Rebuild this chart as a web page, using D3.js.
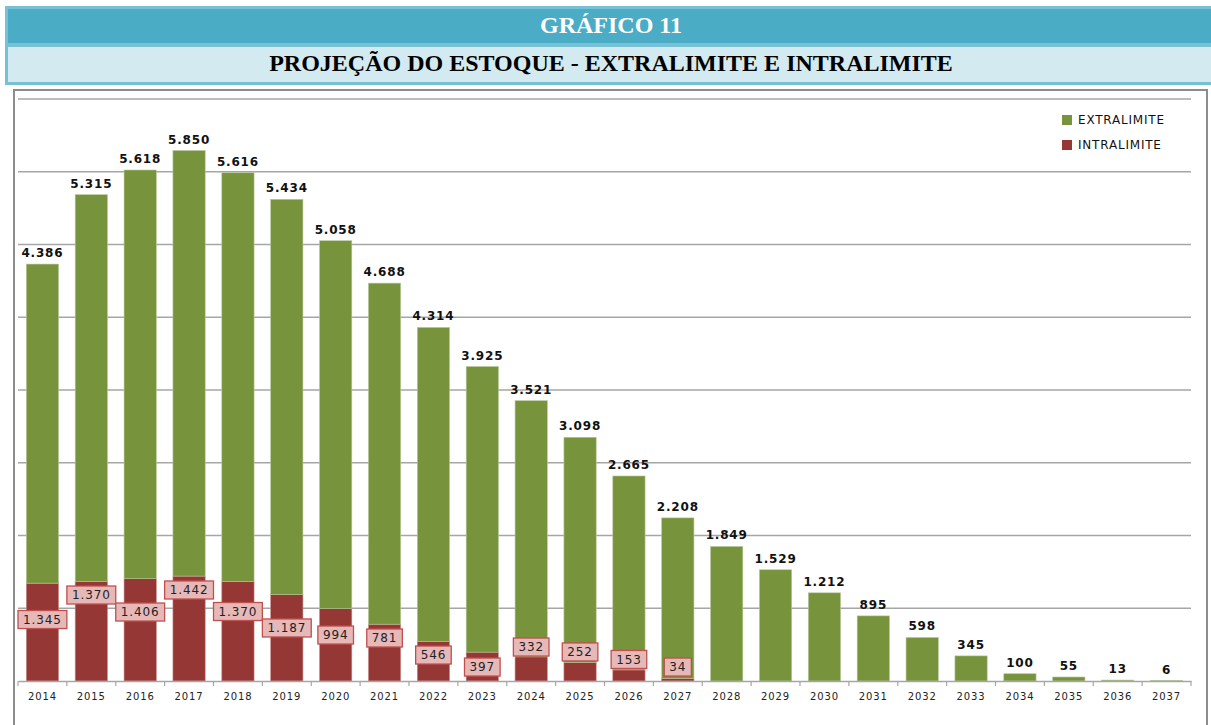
<!DOCTYPE html>
<html lang="pt">
<head>
<meta charset="UTF-8">
<title>Gráfico 11 - Projeção do estoque</title>
<script src="https://d3js.org/d3.v7.min.js"></script>
<style>
    body { margin: 0; background: #ffffff; }
    svg { display: block; }
    .year { font-family: "DejaVu Sans", Verdana, sans-serif; font-size: 10px; fill: #222; letter-spacing: 0.9px; }
    .total { font-family: "DejaVu Sans", Verdana, sans-serif; font-size: 12px; font-weight: bold; fill: #111; letter-spacing: 0.8px; }
    .intra-label { font-family: "DejaVu Sans", Verdana, sans-serif; font-size: 12px; fill: #222; letter-spacing: 0.9px; }
    .legend { font-family: "DejaVu Sans", "Liberation Sans", sans-serif; font-size: 12px; fill: #111; letter-spacing: 0.8px; }
</style>
</head>
<body>
<div id="chart"></div>
<script>
    // data
    const years = ["2014","2015","2016","2017","2018","2019","2020","2021","2022","2023","2024","2025",
                   "2026","2027","2028","2029","2030","2031","2032","2033","2034","2035","2036","2037"];
    const extralimite = [4386,5315,5618,5850,5616,5434,5058,4688,4314,3925,3521,3098,
                         2665,2208,1849,1529,1212,895,598,345,100,55,13,6];
    const intralimite = [1345,1370,1406,1442,1370,1187,994,781,546,397,332,252,
                         153,34,0,0,0,0,0,0,0,0,0,0];
    const yTicks = [0,1000,2000,3000,4000,5000,6000,7000,8000];

    // where the intralimite boxes sit (value units), they were moved by hand in the original
    const intraLabelAt = [845,1182,948,1251,955,729,632,591,357,192,467,399,296,192];

    const width = 1211, height = 725;
    const colExtra = "#77933c", colIntra = "#953735";

    const svg = d3.select("#chart").append("svg")
        .attr("width", width)
        .attr("height", height);

    // header boxes
    svg.append("rect").attr("x", 5).attr("y", 6).attr("width", 1206).attr("height", 79).attr("fill", "#78c0d3");
    svg.append("rect").attr("x", 8).attr("y", 9).attr("width", 1203).attr("height", 34).attr("fill", "#4bacc6");
    svg.append("rect").attr("x", 8).attr("y", 47).attr("width", 1203).attr("height", 35).attr("fill", "#d3eaf1");

    svg.append("text")
        .attr("x", 611).attr("y", 25).attr("dy", "0.35em")
        .attr("text-anchor", "middle")
        .style("font-family", "'Liberation Serif', 'Times New Roman', serif")
        .style("font-weight", "bold").style("font-size", "24px")
        .attr("fill", "#ffffff")
        .text("GRÁFICO 11");

    svg.append("text")
        .attr("x", 611).attr("y", 63).attr("dy", "0.35em")
        .attr("text-anchor", "middle")
        .style("font-family", "'Liberation Serif', 'Times New Roman', serif")
        .style("font-weight", "bold").style("font-size", "24px")
        .attr("fill", "#000000")
        .text("PROJEÇÃO DO ESTOQUE - EXTRALIMITE E INTRALIMITE");

    // chart frame
    svg.append("rect")
        .attr("x", 14).attr("y", 90).attr("width", 1193).attr("height", 660)
        .attr("fill", "none").attr("stroke", "#8c8c8c").attr("stroke-width", 2);

    const x = d3.scaleBand().domain(years).range([18, 1191]).paddingInner(0.34).paddingOuter(0.17);
    const y = d3.scaleLinear().domain([0, 8000]).range([681, 99]);

    // gridlines
    svg.append("g")
        .selectAll("line")
        .data(yTicks.slice(1))
        .join("line")
        .attr("x1", 18).attr("x2", 1191)
        .attr("y1", d => y(d)).attr("y2", d => y(d))
        .attr("stroke", "#a6a6a6").attr("stroke-width", 1.5);

    const rows = years.map((yr, i) => ({ year: yr, extra: extralimite[i], intra: intralimite[i], i }));

    // intralimite segment
    svg.append("g")
        .selectAll("rect")
        .data(rows.filter(d => d.intra > 0))
        .join("rect")
        .attr("x", d => x(d.year))
        .attr("width", x.bandwidth())
        .attr("y", d => y(d.intra))
        .attr("height", d => y(0) - y(d.intra))
        .attr("fill", colIntra)
        .attr("stroke", "#c98c8a").attr("stroke-width", 0.6);

    // extralimite segment on top
    svg.append("g")
        .selectAll("rect")
        .data(rows)
        .join("rect")
        .attr("x", d => x(d.year))
        .attr("width", x.bandwidth())
        .attr("y", d => y(d.intra + d.extra))
        .attr("height", d => y(d.intra) - y(d.intra + d.extra))
        .attr("fill", colExtra)
        .attr("stroke", "#b8c99a").attr("stroke-width", 0.6);

    // x axis
    const xAxis = d3.axisBottom(x).tickSize(0).tickPadding(12);
    const ax = svg.append("g").attr("transform", `translate(0,${y(0)})`).call(xAxis);
    ax.select(".domain").attr("stroke", "#a6a6a6").attr("stroke-width", 1.5);
    ax.selectAll("text").attr("class", "year").attr("font-family", null).attr("font-size", null);

    // tick marks between categories
    const step = x.step();
    svg.append("g")
        .selectAll("line")
        .data(d3.range(years.length + 1))
        .join("line")
        .attr("x1", i => 18 + i * step).attr("x2", i => 18 + i * step)
        .attr("y1", y(0)).attr("y2", y(0) + 5)
        .attr("stroke", "#a6a6a6").attr("stroke-width", 1.2);

    // extralimite value above each bar
    const fmt = v => d3.format(",")(v).replace(/,/g, ".");
    svg.append("g")
        .selectAll("text")
        .data(rows)
        .join("text")
        .attr("class", "total")
        .attr("x", d => x(d.year) + x.bandwidth() / 2)
        .attr("y", d => y(d.intra + d.extra) - 7)
        .attr("text-anchor", "middle")
        .text(d => fmt(d.extra));

    // intralimite boxed labels
    const boxes = svg.append("g")
        .selectAll("g")
        .data(rows.filter(d => d.intra > 0))
        .join("g")
        .attr("transform", d => `translate(${x(d.year) + x.bandwidth() / 2},${y(intraLabelAt[d.i])})`);

    boxes.append("text")
        .attr("class", "intra-label")
        .attr("text-anchor", "middle")
        .attr("dy", "0.36em")
        .text(d => fmt(d.intra));

    boxes.each(function() {
        const g = d3.select(this);
        const bb = g.select("text").node().getBBox();
        g.insert("rect", "text")
            .attr("x", bb.x - 5).attr("y", -9)
            .attr("width", bb.width + 10).attr("height", 18)
            .attr("fill", "#e6b9b8").attr("stroke", "#c0504d").attr("stroke-width", 1.3);
    });

    // legend
    const legend = svg.append("g").attr("transform", "translate(1062,120)");
    [["EXTRALIMITE", colExtra], ["INTRALIMITE", colIntra]].forEach(([name, c], i) => {
        legend.append("rect").attr("x", 0).attr("y", i * 25 - 5).attr("width", 10).attr("height", 10).attr("fill", c);
        legend.append("text").attr("class", "legend").attr("x", 16).attr("y", i * 25).attr("dy", "0.35em").text(name);
    });
</script>
</body>
</html>
